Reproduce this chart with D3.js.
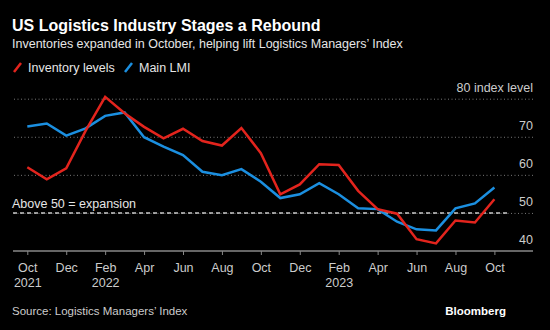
<!DOCTYPE html>
<html>
<head>
<meta charset="utf-8">
<script src="https://cdn.jsdelivr.net/npm/d3@7"></script>
<style>
  body { margin: 0; background: #000; }
  svg { display: block; font-family: "Liberation Sans", Arial, sans-serif; }
</style>
</head>
<body>
<div id="chart"></div>
<script>
// monthly readings, Oct 2021 .. Oct 2023
var months = ["Oct", "Nov", "Dec", "Jan", "Feb", "Mar", "Apr", "May", "Jun", "Jul", "Aug", "Sep",
              "Oct", "Nov", "Dec", "Jan", "Feb", "Mar", "Apr", "May", "Jun", "Jul", "Aug", "Sep", "Oct"];
var years = {0: "2021", 4: "2022", 16: "2023"};

var inventory = [62.0, 58.8, 61.7, 71.6, 80.5, 76.2, 72.6, 69.6, 72.1, 68.9, 67.7, 72.3,
                 65.7, 54.9, 57.5, 62.8, 62.6, 55.8, 51.0, 49.8, 43.1, 42.0, 48.0, 47.5, 53.6];
var lmi = [72.7, 73.5, 70.3, 72.2, 75.5, 76.4, 69.9, 67.4, 65.2, 60.8, 59.9, 61.5,
           58.2, 53.9, 54.9, 57.8, 54.9, 51.2, 51.0, 47.7, 45.7, 45.4, 51.2, 52.5, 56.7];

var gridValues = [50, 60, 70, 80];
var yLabels = {40: "40", 50: "50", 60: "60", 70: "70", 80: "80 index level"};

var width = 550,
    height = 330;

var left = 13, right = 533;

var x = d3.scaleLinear().domain([0, 24]).range([27.3, 494.4]);
var y = d3.scaleLinear().domain([40, 80]).range([251, 98.7]);

var svg = d3.select("#chart").append("svg")
    .attr("width", width)
    .attr("height", height);

svg.append("rect").attr("width", width).attr("height", height).attr("fill", "#000");

// titles
svg.append("text")
    .attr("x", 12).attr("y", 31)
    .attr("fill", "#fff")
    .style("font-weight", "bold")
    .style("font-size", "16px")
    .text("US Logistics Industry Stages a Rebound");

svg.append("text")
    .attr("x", 12).attr("y", 48)
    .attr("fill", "#e6e6e6")
    .style("font-size", "12.5px")
    .text("Inventories expanded in October, helping lift Logistics Managers\u2019 Index");

// legend
var legend = [{name: "Inventory levels", color: "#e3241d", x: 13},
              {name: "Main LMI", color: "#1b8fe0", x: 124}];

var lg = svg.selectAll(".legend").data(legend).enter().append("g")
    .attr("transform", function(d) { return "translate(" + d.x + ",0)"; });
lg.append("line")
    .attr("x1", 1).attr("y1", 72).attr("x2", 8).attr("y2", 63)
    .attr("stroke", function(d) { return d.color; })
    .attr("stroke-width", 2.5);
lg.append("text")
    .attr("x", 15).attr("y", 72)
    .attr("fill", "#e6e6e6")
    .style("font-size", "12.5px")
    .text(function(d) { return d.name; });

// grid + y labels
var yAxis = d3.axisRight(y)
    .tickValues(gridValues)
    .tickSize(-(right - left))
    .tickFormat(function(d) { return yLabels[d]; });

var gy = svg.append("g")
    .attr("transform", "translate(" + right + ",0)")
    .call(yAxis);
gy.select(".domain").remove();
gy.selectAll(".tick line")
    .attr("stroke", "#777")
    .attr("stroke-dasharray", "1,2.5");
gy.selectAll(".tick text")
    .attr("x", 0).attr("dy", -7)
    .attr("text-anchor", "end")
    .attr("fill", "#ccc")
    .style("font-size", "12.5px")
    .style("font-family", "inherit");

// 40 label sits on the axis line
svg.append("text")
    .attr("x", right).attr("y", y(40) - 7)
    .attr("text-anchor", "end")
    .attr("fill", "#ccc")
    .style("font-size", "12.5px")
    .text(yLabels[40]);

// 50 threshold
svg.append("line")
    .attr("x1", left).attr("x2", x(24.7))
    .attr("y1", y(50)).attr("y2", y(50))
    .attr("stroke", "#c8c8c8")
    .attr("stroke-width", 1.5)
    .attr("stroke-dasharray", "4,3");
svg.append("text")
    .attr("x", 12).attr("y", y(50) - 5)
    .attr("fill", "#e6e6e6")
    .style("font-size", "12.5px")
    .text("Above 50 = expansion");

// x axis
var xAxis = d3.axisBottom(x)
    .tickValues(d3.range(0, 25, 2))
    .tickSize(4)
    .tickSizeOuter(0)
    .tickFormat(function(d) { return months[d]; });

var gx = svg.append("g")
    .attr("transform", "translate(0," + y(40) + ")")
    .call(xAxis);
gx.select(".domain").remove();
gx.insert("line", ":first-child")
    .attr("x1", left).attr("x2", right)
    .attr("stroke", "#888").attr("stroke-width", 1.5);
gx.selectAll(".tick line").attr("stroke", "#888");
gx.selectAll(".tick text")
    .attr("fill", "#ccc")
    .attr("y", 0)
    .style("font-size", "12.5px")
    .style("font-family", "inherit")
    .attr("dy", null)
    .text(null)
    .each(function(d) {
      var t = d3.select(this);
      t.append("tspan").attr("x", 0).attr("y", 20.5).text(months[d]);
      if (years[d]) t.append("tspan").attr("x", 0).attr("y", 35.5).text(years[d]);
    });

// lines
var line = d3.line()
    .x(function(d, i) { return x(i); })
    .y(function(d) { return y(d); });

svg.append("path")
    .datum(lmi)
    .attr("fill", "none")
    .attr("stroke", "#1b8fe0")
    .attr("stroke-width", 2.5)
    .attr("d", line);

svg.append("path")
    .datum(inventory)
    .attr("fill", "none")
    .attr("stroke", "#e3241d")
    .attr("stroke-width", 2.5)
    .attr("d", line);

// footer
svg.append("text")
    .attr("x", 12).attr("y", 315)
    .attr("fill", "#ccc")
    .style("font-size", "11.5px")
    .text("Source: Logistics Managers\u2019 Index");

svg.append("text")
    .attr("x", 506).attr("y", 315)
    .attr("text-anchor", "end")
    .attr("fill", "#fff")
    .style("font-weight", "bold")
    .style("font-size", "11.5px")
    .text("Bloomberg");
</script>
</body>
</html>
